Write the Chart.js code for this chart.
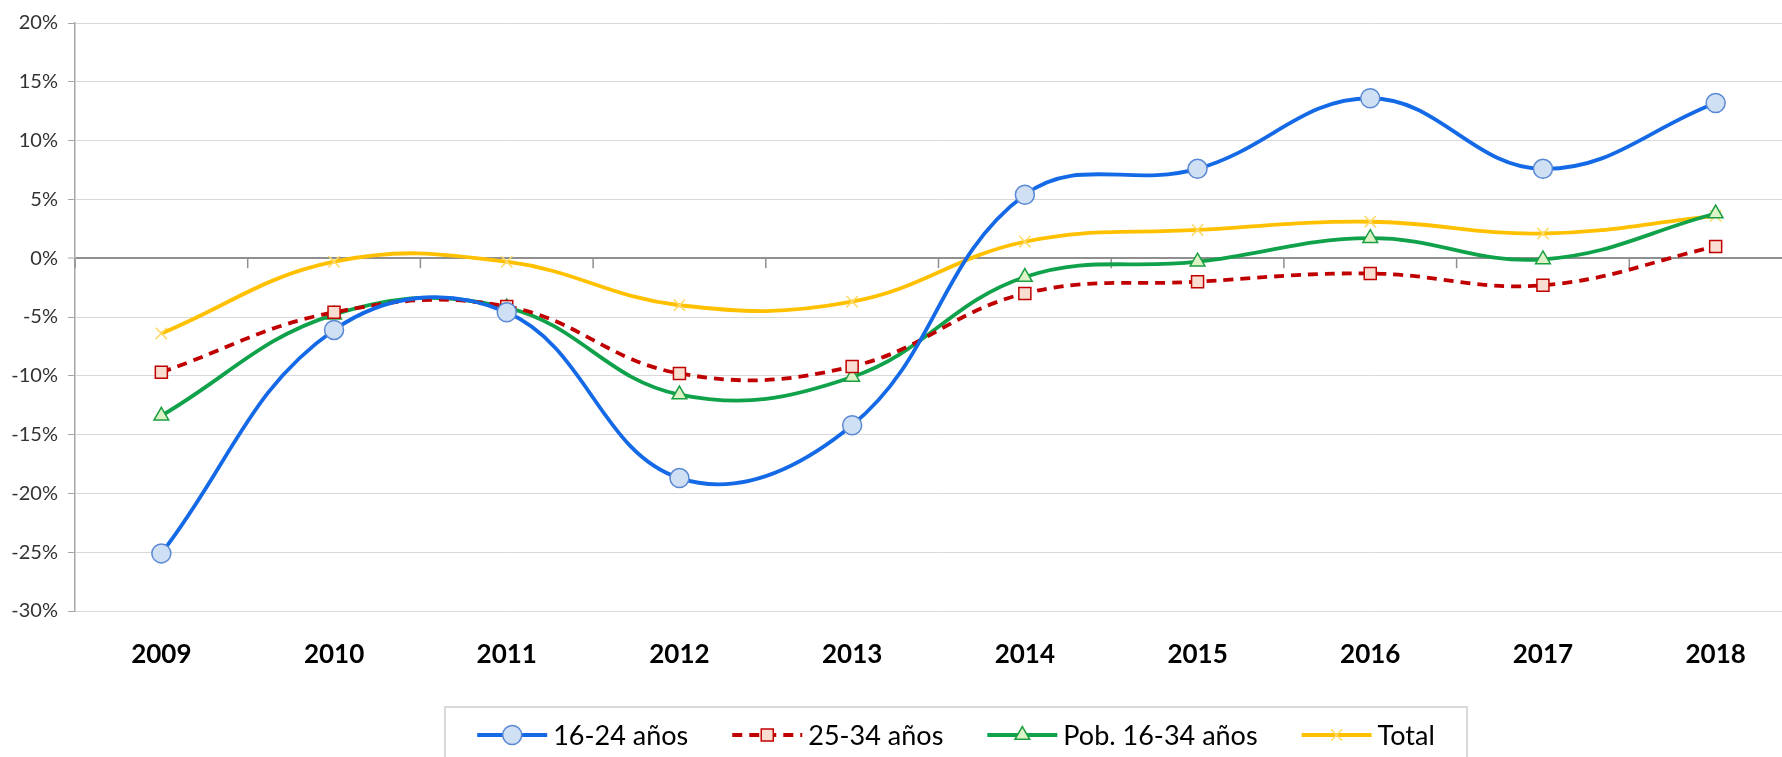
<!DOCTYPE html>
<html lang="es">
<head>
<meta charset="UTF-8">
<title>Variación anual</title>
<script src="https://cdn.jsdelivr.net/npm/chart.js"></script>
<style>
  html, body { margin: 0; padding: 0; background: #fff; overflow: hidden; }
  #wrap { width: 1813px; height: 757px; }
</style>
</head>
<body>
<div id="wrap"><canvas id="chart" width="1813" height="757"></canvas></div>
<script>
// datos
const years = ['2009', '2010', '2011', '2012', '2013', '2014', '2015', '2016', '2017', '2018'];
const edad1624 = [-25.1, -6.1, -4.6, -18.7, -14.2, 5.4, 7.6, 13.6, 7.6, 13.2];
const edad2534 = [-9.7, -4.6, -4.1, -9.8, -9.2, -3.0, -2.0, -1.3, -2.3, 1.0];
const pob1634 = [-13.4, -4.8, -4.2, -11.6, -10.1, -1.6, -0.3, 1.7, -0.1, 3.8];
const total = [-6.4, -0.3, -0.3, -4.0, -3.7, 1.4, 2.4, 3.1, 2.1, 3.6];
const seriesNames = ['16-24 años', '25-34 años', 'Pob. 16-34 años', 'Total'];
const yMin = -30, yMax = 20, yStep = 5;

// marcas de la linea de 0%
const zeroTicks = {
    id: 'zeroTicks',
    beforeDatasetsDraw(chart) {
        const { ctx, scales: { x, y } } = chart;
        const y0 = y.getPixelForValue(0);
        ctx.save();
        ctx.strokeStyle = '#8f8f8f';
        ctx.lineWidth = 1.5;
        for (let i = 0; i <= years.length; i++) {
            const px = x.getPixelForValue(i - 0.5);
            ctx.beginPath();
            ctx.moveTo(px, y0);
            ctx.lineTo(px, y0 + 10);
            ctx.stroke();
        }
        ctx.restore();
    }
};

// leyenda con recuadro, estilo Excel
const boxLegend = {
    id: 'boxLegend',
    afterDraw(chart) {
        const { ctx } = chart;
        const sets = chart.data.datasets;
        const lineLen = 70, gapText = 6, gapItem = 44;
        const cx = 956, cy = 735;
        ctx.save();
        ctx.font = '27px Lato';
        const widths = sets.map(d => ctx.measureText(d.label).width);
        const full = widths.reduce((a, b) => a + b, 0) + sets.length * (lineLen + gapText) + (sets.length - 1) * gapItem;

        ctx.strokeStyle = '#d9d9d9';
        ctx.lineWidth = 2;
        ctx.strokeRect(cx - 511, 707, 1022, 80);

        let x = cx - full / 2;
        sets.forEach((d, i) => {
            ctx.setLineDash(d.borderDash || []);
            ctx.strokeStyle = d.borderColor;
            ctx.lineWidth = d.borderWidth;
            ctx.beginPath();
            ctx.moveTo(x, cy);
            ctx.lineTo(x + lineLen, cy);
            ctx.stroke();
            ctx.setLineDash([]);

            ctx.fillStyle = d.pointBackgroundColor;
            ctx.strokeStyle = d.pointBorderColor;
            ctx.lineWidth = d.pointBorderWidth;
            Chart.helpers.drawPoint(ctx, {
                pointStyle: d.pointStyle, radius: d.pointRadius,
                borderWidth: d.pointBorderWidth, rotation: 0
            }, x + lineLen / 2, cy);

            ctx.fillStyle = '#000';
            ctx.textBaseline = 'middle';
            ctx.textAlign = 'left';
            ctx.fillText(d.label, x + lineLen + gapText, cy + 1);
            x += lineLen + gapText + widths[i] + gapItem;
        });
        ctx.restore();
    }
};

const ctx = document.getElementById('chart').getContext('2d');
const chart = new Chart(ctx, {
    type: 'line',
    data: {
        labels: years,
        datasets: [{
            label: seriesNames[0],
            data: edad1624,
            borderColor: '#1469e6',
            borderWidth: 3.8,
            pointStyle: 'circle',
            pointRadius: 9.5,
            pointBackgroundColor: '#cfe0f4',
            pointBorderColor: '#5a88d4',
            pointBorderWidth: 1.5,
            tension: 0.4
        }, {
            label: seriesNames[1],
            data: edad2534,
            borderColor: '#c00000',
            borderWidth: 3.8,
            borderDash: [10, 7],
            pointStyle: 'rect',
            pointRadius: 8.5,
            pointBackgroundColor: '#f9ddd0',
            pointBorderColor: '#c00000',
            pointBorderWidth: 1.5,
            tension: 0.4
        }, {
            label: seriesNames[2],
            data: pob1634,
            borderColor: '#10a24a',
            borderWidth: 3.8,
            pointStyle: 'triangle',
            pointRadius: 8.5,
            pointBackgroundColor: '#ddf2c6',
            pointBorderColor: '#1a9f42',
            pointBorderWidth: 1.5,
            tension: 0.4
        }, {
            label: seriesNames[3],
            data: total,
            borderColor: '#ffc000',
            borderWidth: 3.8,
            pointStyle: 'crossRot',
            pointRadius: 8,
            pointBackgroundColor: '#ffd966',
            pointBorderColor: '#ffd966',
            pointBorderWidth: 1.5,
            tension: 0.4
        }]
    },
    options: {
        responsive: false,
        animation: false,
        devicePixelRatio: 1,
        layout: { padding: { top: 23, left: 0, right: 0, bottom: 0 } },
        plugins: {
            legend: { display: false },
            tooltip: { enabled: false }
        },
        scales: {
            x: {
                offset: true,
                afterFit: s => { s.height = 146; },
                grid: { display: false, drawTicks: false },
                border: { display: false },
                ticks: {
                    font: { family: 'Lato', size: 26, weight: 'bold' },
                    color: '#000',
                    padding: 28,
                    maxRotation: 0,
                    autoSkip: false
                }
            },
            y: {
                min: yMin,
                max: yMax,
                afterFit: s => { s.width = 75; },
                ticks: {
                    stepSize: yStep,
                    callback: v => v + '%',
                    font: { family: 'Lato', size: 20 },
                    color: '#333',
                    padding: 10
                },
                grid: {
                    color: c => c.tick && c.tick.value === 0 ? '#8f8f8f' : '#d9d9d9',
                    lineWidth: c => c.tick && c.tick.value === 0 ? 2 : 1,
                    tickColor: '#a6a6a6',
                    tickLength: 7,
                    tickWidth: 1
                },
                border: { color: '#a6a6a6', width: 1.5 }
            }
        }
    },
    plugins: [zeroTicks, boxLegend]
});
</script>
</body>
</html>
